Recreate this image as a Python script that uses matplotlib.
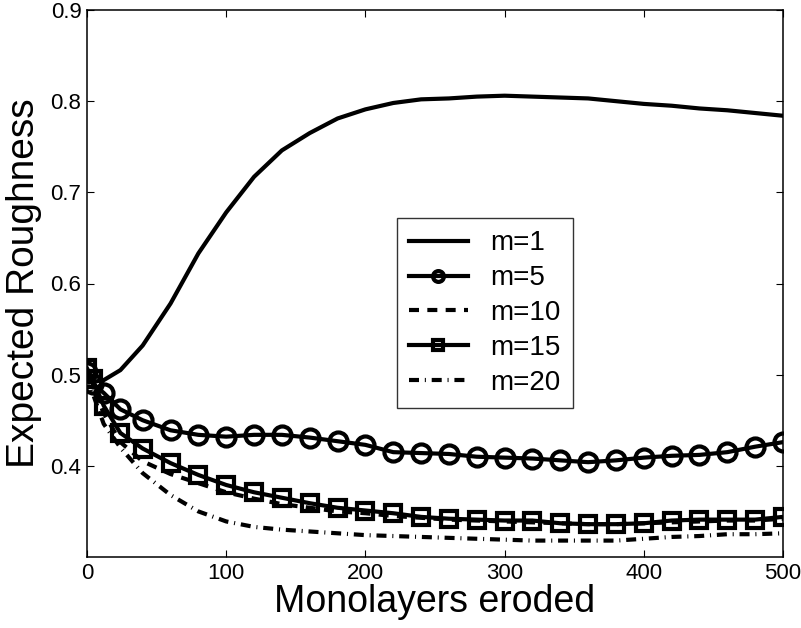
import matplotlib
matplotlib.use("Agg")
import matplotlib.pyplot as plt

plt.rcParams["font.family"] = ["Liberation Sans", "DejaVu Sans"]

# monolayers eroded (sample points)
x_vals = [0, 4, 12, 24, 40, 60, 80, 100, 120, 140, 160, 180, 200, 220, 240,
          260, 280, 300, 320, 340, 360, 380, 400, 420, 440, 460, 480, 500]

m1 = [0.500, 0.492, 0.494, 0.505, 0.532, 0.578, 0.633, 0.678, 0.717, 0.746,
      0.765, 0.781, 0.791, 0.798, 0.802, 0.803, 0.805, 0.806, 0.805, 0.804,
      0.803, 0.800, 0.797, 0.795, 0.792, 0.790, 0.787, 0.784]
m5 = [0.503, 0.490, 0.480, 0.462, 0.450, 0.439, 0.434, 0.432, 0.434, 0.434,
      0.431, 0.427, 0.423, 0.415, 0.414, 0.413, 0.410, 0.409, 0.408, 0.406,
      0.404, 0.406, 0.409, 0.411, 0.412, 0.415, 0.421, 0.426]
m10 = [0.500, 0.487, 0.458, 0.426, 0.405, 0.391, 0.381, 0.371, 0.364, 0.358,
       0.354, 0.350, 0.348, 0.345, 0.343, 0.341, 0.340, 0.339, 0.338, 0.337,
       0.336, 0.336, 0.337, 0.338, 0.339, 0.340, 0.340, 0.342]
m15 = [0.507, 0.495, 0.466, 0.436, 0.419, 0.403, 0.390, 0.379, 0.371, 0.365,
       0.359, 0.354, 0.351, 0.348, 0.344, 0.342, 0.341, 0.340, 0.340, 0.337,
       0.336, 0.336, 0.337, 0.340, 0.341, 0.341, 0.341, 0.344]
m20 = [0.500, 0.480, 0.446, 0.420, 0.392, 0.368, 0.350, 0.339, 0.333, 0.330,
       0.328, 0.326, 0.324, 0.323, 0.322, 0.321, 0.320, 0.319, 0.318, 0.318,
       0.318, 0.318, 0.320, 0.322, 0.323, 0.325, 0.325, 0.326]

x_ticks = [0, 100, 200, 300, 400, 500]
y_ticks = [0.4, 0.5, 0.6, 0.7, 0.8, 0.9]

LW = 3.0

fig = plt.figure(figsize=(8.01, 6.28), dpi=100)
ax = fig.add_axes([87 / 801, 71 / 628, 696 / 801, 547 / 628])

ax.plot(x_vals, m1, color="black", lw=LW, label="m=1")
ax.plot(x_vals, m5, color="black", lw=LW, marker="o", ms=13,
        mfc="none", mec="black", mew=3.0, label="m=5")
ax.plot(x_vals, m10, color="black", lw=LW, dashes=(2.4, 2.0),
        dash_capstyle="butt", label="m=10")
ax.plot(x_vals, m15, color="black", lw=LW, marker="s", ms=11,
        mfc="none", mec="black", mew=3.0, label="m=15")
ax.plot(x_vals, m20, color="black", lw=LW, dashes=(2.4, 1.4, 0.25, 1.4),
        dash_capstyle="butt", label="m=20")

ax.set_xlim(0, 500)
ax.set_ylim(0.3, 0.9)
ax.set_xticks(x_ticks)
ax.set_yticks(y_ticks)
ax.set_yticklabels([f"{v:.1f}" for v in y_ticks])
ax.tick_params(direction="in", length=5, width=0.8, labelsize=16,
               top=True, right=True, pad=4)
for sp in ax.spines.values():
    sp.set_linewidth(1.1)

ax.set_xlabel("Monolayers eroded", fontsize=27, labelpad=0)
ax.set_ylabel("Expected Roughness", fontsize=28, labelpad=6)

leg = ax.legend(loc="upper left", bbox_to_anchor=(0.445, 0.620),
                fontsize=20, frameon=True, fancybox=False, edgecolor="black",
                handlelength=2.1, handletextpad=0.8, labelspacing=0.32,
                borderpad=0.45, markerscale=0.6, borderaxespad=0)
leg.get_frame().set_linewidth(1.0)

fig.savefig("out.png", dpi=100, facecolor="white")
